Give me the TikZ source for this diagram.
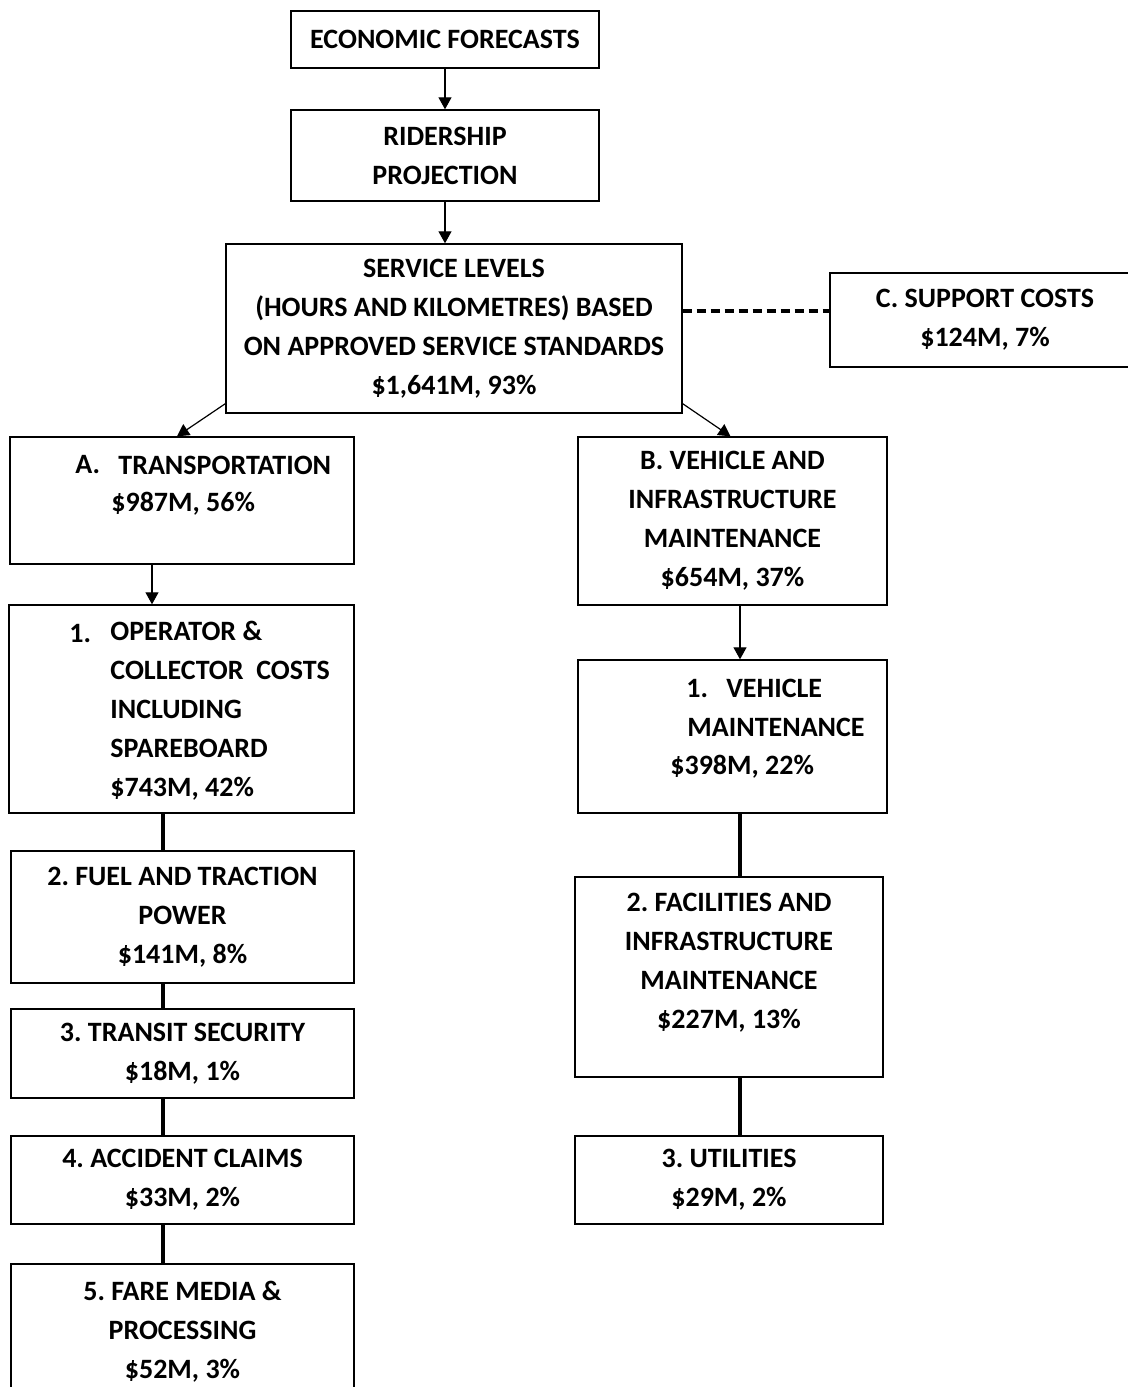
\documentclass[tikz,border=0pt]{standalone}
\usepackage{fontspec}
\setmainfont{Carlito}
\usetikzlibrary{arrows.meta}
\tikzset{
  costbox/.style={draw, line width=0.7pt, align=center, inner sep=0pt},
  txt/.style={inner sep=0pt, align=left, anchor=west},
  arr/.style={line width=0.6pt, -{Triangle[length=6pt,width=6.5pt]}},
  link/.style={line width=2pt},
  dashlink/.style={line width=2pt, dash pattern=on 4.5pt off 2.5pt},
}
\begin{document}
\begin{tikzpicture}[x=0.5pt,y=-0.5pt,font={\fontsize{14}{19.5}\selectfont\bfseries\frenchspacing}]
    \useasboundingbox (0,0) rectangle (1128,1387);
    % top chain
    \node[costbox, minimum width=154pt, minimum height=28.5pt] (econ) at (445,39.5) {ECONOMIC FORECASTS};
    \node[costbox, minimum width=154pt, minimum height=45.5pt] (rider) at (445,155.5) {RIDERSHIP\\PROJECTION};
    \node[costbox, minimum width=228pt, minimum height=84.5pt] (serv) at (454,328.5)
        {SERVICE LEVELS\\(HOURS AND KILOMETRES) BASED\\ON APPROVED SERVICE STANDARDS\\\$1,641M, 93\%};
    \node[costbox, minimum width=155pt, minimum height=47pt] (supp) at (985,320) {C. SUPPORT COSTS\\\$124M, 7\%};
    % left column
    \node[costbox, minimum width=172pt, minimum height=63.5pt] (trans) at (182,500.5) {};
    \node[txt] (transa) at (75,465) {A.};
    \node[txt] (transt) at (118,465) {TRANSPORTATION};
    \node[txt] (transv) at (111,504) {\$987M, 56\%};
    \node[costbox, minimum width=172.5pt, minimum height=104pt] (oper) at (181.5,709) {};
    \node[txt] (opern) at (69,633) {1.};
    \node[txt] (opert) at (110,711) {OPERATOR \&\\COLLECTOR\ \ COSTS\\INCLUDING\\SPAREBOARD\\\$743M, 42\%};
    \node[costbox, minimum width=171.5pt, minimum height=66pt] (fuel) at (182.5,917) {2. FUEL AND TRACTION\\POWER\\\$141M, 8\%};
    \node[costbox, minimum width=171.5pt, minimum height=44.5pt] (secu) at (182.5,1053.5) {3. TRANSIT SECURITY\\\$18M, 1\%};
    \node[costbox, minimum width=171.5pt, minimum height=44pt] (acci) at (182.5,1180) {4. ACCIDENT CLAIMS\\\$33M, 2\%};
    \node[costbox, minimum width=171.5pt, minimum height=67.5pt] (fare) at (182.5,1331.5) {5. FARE MEDIA \&\\PROCESSING\\\$52M, 3\%};
    % right column
    \node[costbox, minimum width=154.5pt, minimum height=84pt] (vim) at (732.5,521)
        {B. VEHICLE AND\\INFRASTRUCTURE\\MAINTENANCE\\\$654M, 37\%};
    \node[costbox, minimum width=154.5pt, minimum height=76.5pt] (vehm) at (732.5,736.5) {};
    \node[txt] (vehmn) at (686,688) {1.};
    \node[txt] (vehmt) at (726,688) {VEHICLE};
    \node[txt] (vehmm) at (687,727) {MAINTENANCE};
    \node[txt] (vehmv) at (670,767) {\$398M, 22\%};
    \node[costbox, minimum width=154pt, minimum height=100pt] (faci) at (729,977) {};
    \node[inner sep=0pt, align=center] (facit) at (729,962.5)
        {2. FACILITIES AND\\INFRASTRUCTURE\\MAINTENANCE\\\$227M, 13\%};
    \node[costbox, minimum width=154pt, minimum height=44pt] (util) at (729,1180) {3. UTILITIES\\\$29M, 2\%};
    % connectors
    \coordinate (ldown) at (152,0);
    \coordinate (lline) at (163,0);
    \coordinate (rdown) at (740,0);
    \coordinate (dashy) at ([yshift=4.5pt]supp.west);
    \draw[arr] (econ) -- (rider);
    \draw[arr] (rider.south) -- (rider.south |- serv.north);
    \draw[dashlink] (dashy -| serv.east) -- (dashy);
    \draw[arr] ([yshift=5pt]serv.south west) -- ([xshift=-2.5pt]trans.north);
    \draw[arr] ([yshift=5pt]serv.south east) -- ([xshift=-1pt]vim.north);
    \draw[arr] (trans.south -| ldown) -- (oper.north -| ldown);
    \draw[arr] (vim.south -| rdown) -- (vehm.north -| rdown);
    \foreach \a/\b in {oper/fuel, fuel/secu, secu/acci, acci/fare}
        \draw[link] (\a.south -| lline) -- (\b.north -| lline);
    \foreach \a/\b in {vehm/faci, faci/util}
        \draw[link] (\a.south -| rdown) -- (\b.north -| rdown);
\end{tikzpicture}
\end{document}
